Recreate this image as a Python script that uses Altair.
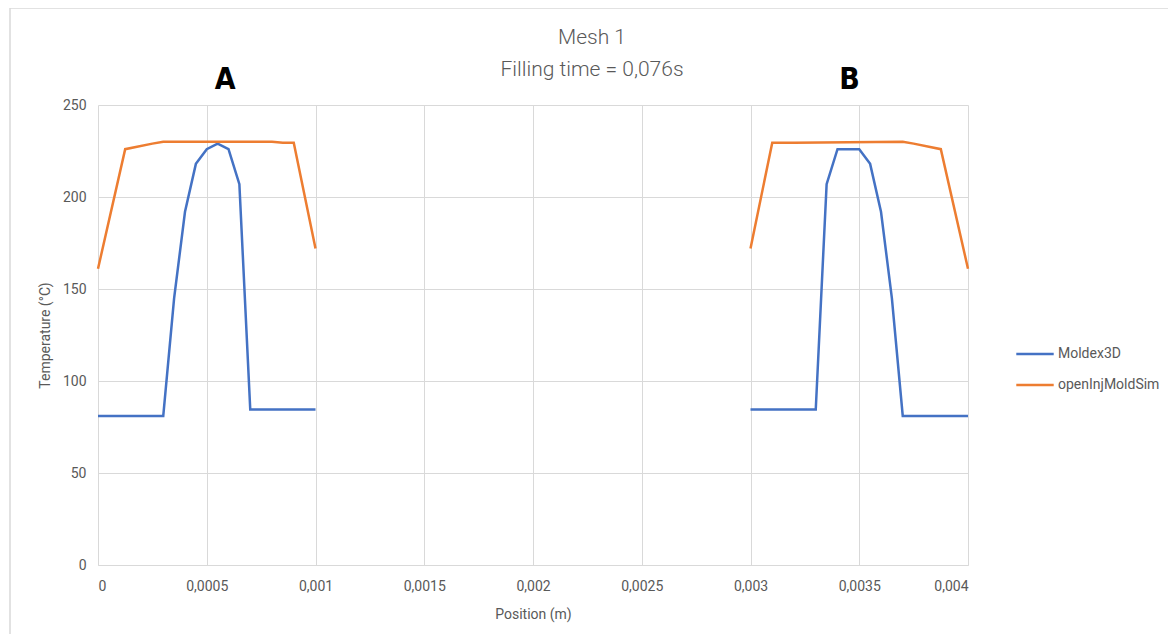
import altair as alt
import pandas as pd

# Moldex3D series
mx_a_x = [0, 0.0003, 0.00035, 0.0004, 0.00045, 0.0005, 0.00055, 0.0006, 0.00065, 0.0007, 0.001]
mx_a_y = [81, 81, 145, 192, 218, 226, 229, 226, 207, 84.5, 84.5]
mx_b_x = [0.003, 0.0033, 0.00335, 0.0034, 0.00345, 0.0035, 0.00355, 0.0036, 0.00365, 0.0037, 0.004]
mx_b_y = [84.5, 84.5, 207, 226, 226, 226, 218, 192, 145, 81, 81]

# openInjMoldSim series
oi_a_x = [0, 0.000125, 0.00025, 0.0003, 0.0008, 0.00085, 0.0009, 0.001]
oi_a_y = [161, 226, 229, 230, 230, 229.5, 229.5, 172]
oi_b_x = [0.003, 0.0031, 0.0032, 0.0037, 0.00375, 0.003875, 0.004]
oi_b_y = [172, 229.5, 229.5, 230, 229, 226, 161]

series_names = ["Moldex3D", "openInjMoldSim"]
series_colors = ["#4472C4", "#ED7D31"]

x_ticks = [0, 0.0005, 0.001, 0.0015, 0.002, 0.0025, 0.003, 0.0035, 0.004]
y_ticks = [0, 50, 100, 150, 200, 250]

labels_text = ["A", "B"]
labels_x = [0.000585, 0.003455]

title_lines = ["Mesh 1", "Filling time = 0,076s"]

rows = []
for xs, ys, s, seg in [
    (mx_a_x, mx_a_y, "Moldex3D", "A"),
    (mx_b_x, mx_b_y, "Moldex3D", "B"),
    (oi_a_x, oi_a_y, "openInjMoldSim", "A"),
    (oi_b_x, oi_b_y, "openInjMoldSim", "B"),
]:
    for i, (x, y) in enumerate(zip(xs, ys)):
        rows.append({"x": x, "y": y, "series": s, "seg": seg, "order": i})
df = pd.DataFrame(rows)
lab_df = pd.DataFrame({"label": labels_text, "x": labels_x})
title_df = pd.DataFrame({"t": title_lines})

FONT = "Roboto"
GRAY = "#595959"
GRID = "#d9d9d9"

xscale = alt.Scale(domain=[0, 0.004], nice=False, zero=False)
yscale = alt.Scale(domain=[0, 250], nice=False)

lines = alt.Chart(df).mark_line(strokeWidth=2.5).encode(
    x=alt.X("x:Q", scale=xscale,
            axis=alt.Axis(values=x_ticks, title="Position (m)",
                          labelExpr="replace(toString(datum.value), '.', ',')",
                          grid=True, gridColor=GRID, domainColor=GRID, ticks=False,
                          labelPadding=14, titlePadding=14)),
    y=alt.Y("y:Q", scale=yscale,
            axis=alt.Axis(values=y_ticks, title="Temperature (°C)", grid=True,
                          gridColor=GRID, domain=False, ticks=False,
                          labelPadding=12, titlePadding=10)),
    color=alt.Color("series:N",
                    scale=alt.Scale(domain=series_names, range=series_colors),
                    legend=alt.Legend(title=None, orient="none", legendX=917, legendY=229,
                                      symbolType="stroke", symbolStrokeWidth=2.5,
                                      symbolSize=1400, rowPadding=4, labelOffset=3,
                                      labelFontSize=14, labelColor=GRAY, labelFont=FONT)),
    detail="seg:N",
    order="order:Q",
)

texts = alt.Chart(lab_df).mark_text(
    font="DejaVu Sans Condensed, Liberation Sans, sans-serif", fontWeight="bold",
    fontSize=30, color="black", baseline="middle"
).encode(
    x=alt.X("x:Q", scale=xscale),
    y=alt.value(-25),
    text="label:N",
)

title1 = alt.Chart(title_df.head(1)).mark_text(
    font=FONT, fontSize=21, fontWeight=300, color=GRAY, baseline="middle", align="center"
).encode(x=alt.value(494), y=alt.value(-67), text="t:N")

title2 = alt.Chart(title_df.tail(1)).mark_text(
    font=FONT, fontSize=21, fontWeight=300, color=GRAY, baseline="middle", align="center"
).encode(x=alt.value(494), y=alt.value(-35), text="t:N")

frame = alt.Chart(lab_df.head(1)).mark_rect(
    fill=None, stroke=GRID, strokeWidth=1.5
).encode(
    x=alt.value(-88), x2=alt.value(1072), y=alt.value(-97), y2=alt.value(530)
)

chart = alt.layer(frame, lines, texts, title1, title2).properties(
    width=870,
    height=460,
    autosize=alt.AutoSizeParams(type="none"),
    padding={"left": 90, "top": 97, "right": 200, "bottom": 69},
).configure_view(stroke=None).configure_axis(
    labelFont=FONT, labelFontSize=14, labelColor=GRAY,
    titleFont=FONT, titleFontSize=14, titleColor=GRAY, titleFontWeight="normal"
)

chart.save("out.html", embed_options={"renderer": "svg", "actions": False})
